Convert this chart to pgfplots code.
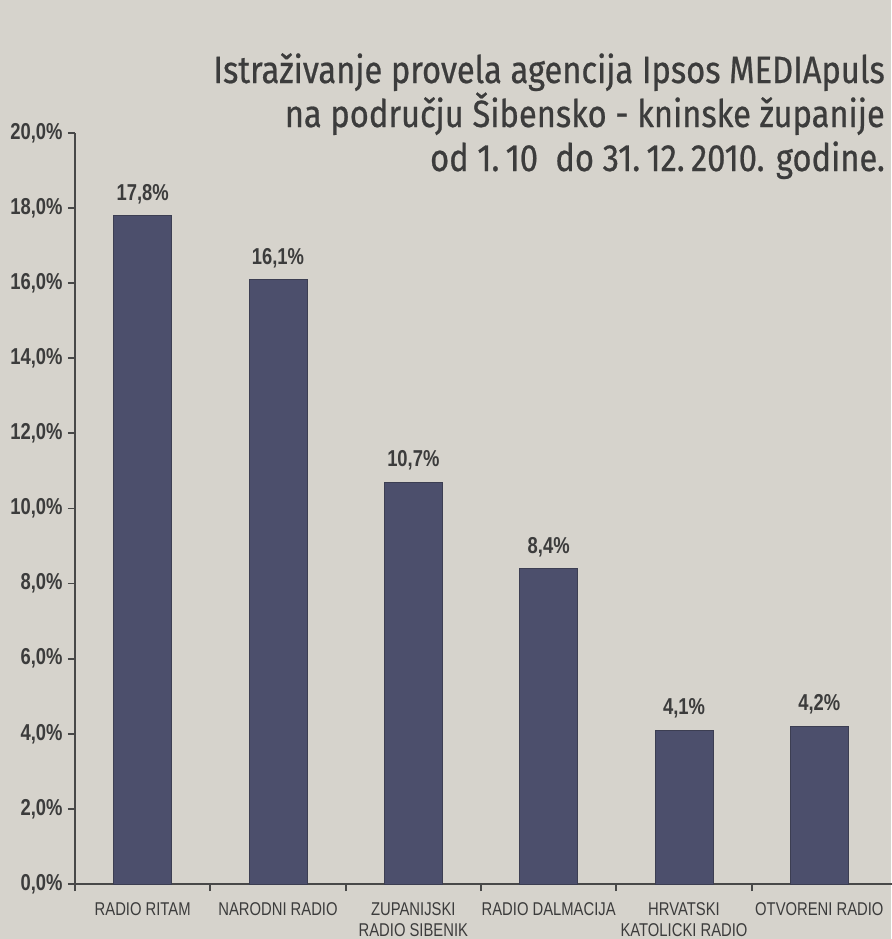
\documentclass[border=0pt]{standalone}
\usepackage{pgfplots}
\pgfplotsset{compat=1.18}
\usepackage{fontspec}
\setmainfont{Liberation Sans}
\newfontfamily\cond[FakeStretch=0.8]{Liberation Sans}
\newfontfamily\titlefont[FakeStretch=0.86,FakeBold=0.6]{Fira Sans}
\definecolor{paper}{RGB}{214,211,204}
\definecolor{barfill}{RGB}{76,79,108}
\definecolor{baredge}{RGB}{60,62,82}
\definecolor{axisgray}{RGB}{72,72,72}
\definecolor{txt}{RGB}{60,60,60}
\begin{document}
\begin{tikzpicture}[x=1pt,y=1pt]
\fill[paper] (-75,-55) rectangle (816,884);
\path[use as bounding box] (-75,-55) rectangle (816,884);
\begin{axis}[
  at={(0,0)}, anchor=south west,
  scale only axis, width=812pt, height=751pt,
  xmin=-0.5, xmax=5.5, ymin=0, ymax=20,
  axis x line*=bottom, axis y line*=left,
  axis line style={-, draw=axisgray, line width=1.8pt},
  x axis line style={shorten >=-6pt},
  tick align=outside,
  major tick length=7pt,
  every tick/.style={draw=axisgray, line width=1.8pt},
  xtick={-0.5,0.5,1.5,2.5,3.5,4.5},
  xticklabels={},
  extra x ticks={0,1,2,3,4,5},
  extra x tick labels={RADIO RITAM,NARODNI RADIO,ZUPANIJSKI\\RADIO SIBENIK,RADIO DALMACIJA,HRVATSKI\\KATOLICKI RADIO,OTVORENI RADIO},
  extra x tick style={major tick length=0pt,
    xticklabel style={align=center, anchor=north, yshift=-15pt, font=\cond\fontsize{18.5}{21}\selectfont, text=txt}},
  ytick={0,2,...,20},
  /pgf/number format/assume math mode=true,
  yticklabel={\pgfmathprintnumber[fixed,fixed zerofill,precision=1,use comma]{\tick}\%},
  yticklabel style={font=\cond\bfseries\fontsize{23}{23}\selectfont, text=txt, xshift=-2pt},
  ybar, bar width=58pt,
  nodes near coords={\pgfmathprintnumber[fixed,fixed zerofill,precision=1,use comma]{\pgfplotspointmeta}\%},
  every node near coord/.append style={font=\cond\bfseries\fontsize{23}{23}\selectfont, text=txt, yshift=8pt},
  clip=false,
]
\addplot[fill=barfill, draw=baredge, line width=0.8pt] coordinates {(0,17.8) (1,16.1) (2,10.7) (3,8.4) (4,4.1) (5,4.2)};
\end{axis}
\node[anchor=north east, inner sep=0pt, align=right, text=txt, font=\titlefont\fontsize{38}{44}\selectfont] at (810,831)
  {Istraživanje provela agencija Ipsos MEDIApuls\\na području Šibensko - kninske županije\\od 1.\,10 \ do 31.\,12.\,2010. godine.};
\end{tikzpicture}
\end{document}
